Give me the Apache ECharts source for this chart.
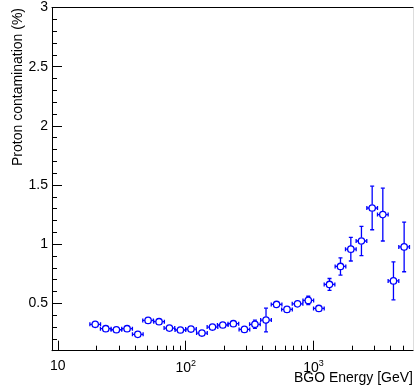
<!DOCTYPE html>
<html><head><meta charset="utf-8">
<script src="https://cdn.jsdelivr.net/npm/echarts@6/dist/echarts.min.js"></script>
<style>html,body{margin:0;padding:0;background:#fff}#c{width:414px;height:392px}</style>
</head><body><div id="c"></div>
<script>
// ---- data ----
const energy = [19.6, 23.7, 28.7, 34.8, 42.2, 50.8, 61.9, 74.6, 90.9, 110, 134, 162, 195, 236, 288, 348, 425, 514, 620, 750, 910, 1101, 1334, 1625, 1958, 2371, 2876, 3484, 4220, 5115];
const contamination = [0.323, 0.286, 0.277, 0.286, 0.238, 0.356, 0.345, 0.291, 0.275, 0.283, 0.249, 0.300, 0.317, 0.328, 0.280, 0.323, 0.359, 0.491, 0.449, 0.496, 0.525, 0.457, 0.660, 0.812, 0.958, 1.027, 1.306, 1.250, 0.690, 0.977];
const contaminationErr = [0.03, 0.015, 0.015, 0.015, 0.015, 0.02, 0.02, 0.015, 0.015, 0.015, 0.015, 0.02, 0.02, 0.03, 0.025, 0.035, 0.10, 0.02, 0.02, 0.025, 0.035, 0.03, 0.05, 0.073, 0.10, 0.124, 0.184, 0.223, 0.16, 0.21];
const binHalfWidthDecades = 1 / 24;
const xMajorTicks = [10, 100, 1000];
const xMinorTicks = [20, 30, 40, 50, 60, 70, 80, 90, 200, 300, 400, 500, 600, 700, 800, 900, 2000, 3000, 4000, 5000];
const yMajorTicks = [0.5, 1, 1.5, 2, 2.5, 3];
const xTitle = 'BGO Energy [GeV]';
const yTitle = 'Proton contamination (%)';

const FONT = '"Liberation Sans", Arial, sans-serif';
const BLUE = '#0000ff';
const ratio = Math.pow(10, binHalfWidthDecades);
const seriesData = energy.map((e, i) => [e, contamination[i], e / ratio, e * ratio,
  contamination[i] - contaminationErr[i], contamination[i] + contaminationErr[i]]);

function renderItem(params, api) {
  const x = api.value(0), y = api.value(1);
  const c = api.coord([x, y]);
  const xl = api.coord([api.value(2), y])[0];
  const xh = api.coord([api.value(3), y])[0];
  const yl = api.coord([x, api.value(4)])[1];
  const yh = api.coord([x, api.value(5)])[1];
  const r = 3.2, cap = 2;
  const st = { stroke: BLUE, lineWidth: 1.3 };
  const kids = [];
  const line = (x1, y1, x2, y2) => kids.push({ type: 'line', shape: { x1, y1, x2, y2 }, style: st });
  // horizontal bar
  line(xl, c[1], c[0] - r, c[1]);
  line(c[0] + r, c[1], xh, c[1]);
  line(xl, c[1] - cap, xl, c[1] + cap);
  line(xh, c[1] - cap, xh, c[1] + cap);
  // vertical bar
  if (c[1] - yh > r + 0.5) {
    line(c[0], c[1] - r, c[0], yh);
    line(c[0] - cap, yh, c[0] + cap, yh);
  }
  if (yl - c[1] > r + 0.5) {
    line(c[0], c[1] + r, c[0], yl);
    line(c[0] - cap, yl, c[0] + cap, yl);
  }
  kids.push({ type: 'circle', shape: { cx: c[0], cy: c[1], r }, style: { stroke: BLUE, lineWidth: 1.3, fill: '#fff' } });
  return { type: 'group', children: kids };
}

const chart = echarts.init(document.getElementById('c'), null, { renderer: 'canvas' });
const axisLineBlack = { show: true, lineStyle: { color: '#000', width: 1 } };
chart.setOption({
  animation: false,
  backgroundColor: '#fff',
  grid: { left: 52, right: 1, top: 7.5, bottom: 41.3, containLabel: false },
  xAxis: [
    { type: 'log', logBase: 10, min: 9, max: 6000, position: 'bottom',
      axisLine: axisLineBlack,
      axisTick: { show: true, inside: true, length: 10, customValues: xMajorTicks, lineStyle: { color: '#000' } },
      axisLabel: { show: true, customValues: xMajorTicks, margin: 8, color: '#000', fontFamily: FONT, fontSize: 14,
        formatter: v => {
          const p = Math.round(Math.log10(v));
          return p === 1 ? '{b|10}' : '{b|10}{s|' + p + '}';
        },
        rich: { b: { fontSize: 14, fontFamily: FONT, color: '#000' },
                s: { fontSize: 9, fontFamily: FONT, color: '#000', padding: [0, 0, 9, 0] } } },
      splitLine: { show: false } },
    { type: 'log', logBase: 10, min: 9, max: 6000, position: 'bottom',
      axisLine: { show: false },
      axisTick: { show: true, inside: true, length: 5, customValues: xMinorTicks, lineStyle: { color: '#000' } },
      axisLabel: { show: false }, splitLine: { show: false } },
    { type: 'log', logBase: 10, min: 9, max: 6000, position: 'top',
      axisLine: axisLineBlack, axisTick: { show: false }, axisLabel: { show: false }, splitLine: { show: false } }
  ],
  yAxis: [
    { type: 'value', min: 0.1, max: 3, interval: 0.1, position: 'left',
      axisLine: axisLineBlack,
      axisTick: { show: true, inside: true, length: 5, lineStyle: { color: '#000' } },
      axisLabel: { show: false }, splitLine: { show: false } },
    { type: 'value', min: 0.1, max: 3, interval: 0.1, position: 'left',
      axisLine: { show: false },
      axisTick: { show: true, inside: true, length: 10, customValues: yMajorTicks, lineStyle: { color: '#000' } },
      axisLabel: { show: true, customValues: yMajorTicks, margin: 4, color: '#000', fontFamily: FONT, fontSize: 14,
        formatter: v => String(v) },
      splitLine: { show: false } },
    { type: 'value', min: 0.1, max: 3, position: 'right',
      axisLine: { show: true, lineStyle: { color: '#ddd', width: 1 } },
      axisTick: { show: false }, axisLabel: { show: false }, splitLine: { show: false } }
  ],
  series: [{
    type: 'custom', xAxisIndex: 0, yAxisIndex: 0,
    data: seriesData, encode: { x: 0, y: 1 },
    renderItem, clip: true
  }],
  graphic: [
    { type: 'text', right: 1, top: 371, style: { text: xTitle, fill: '#000', font: '14px ' + FONT } },
    { type: 'text', left: 11, top: 8, rotation: Math.PI / 2, originX: 0, originY: 0,
      style: { text: yTitle, fill: '#000', font: '14px ' + FONT, align: 'right', verticalAlign: 'top' } }
  ]
});
</script></body></html>
